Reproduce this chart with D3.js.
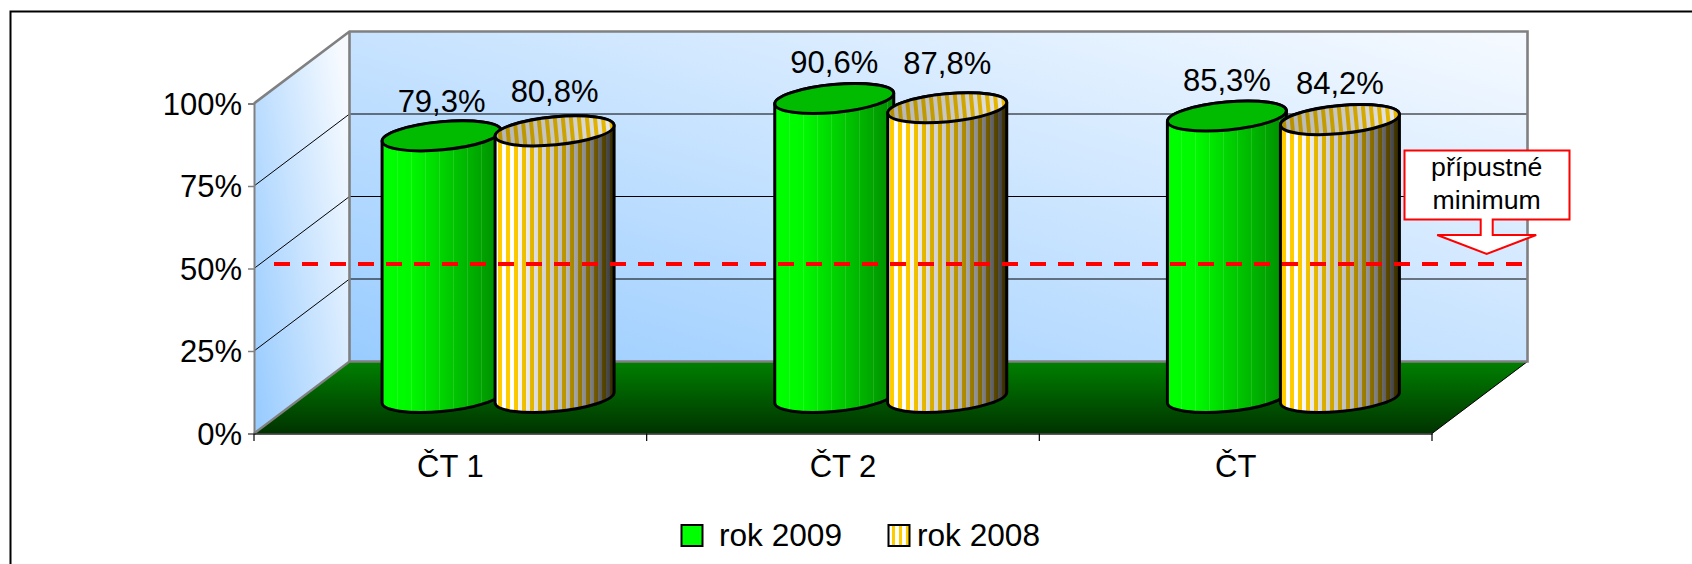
<!DOCTYPE html>
<html><head><meta charset="utf-8">
<script src="https://cdn.jsdelivr.net/npm/d3@7"></script>
<style>html,body{margin:0;padding:0;background:#fff}svg{display:block}text{font-family:"Liberation Sans",Arial,sans-serif;fill:#000}</style>
</head><body><svg id="c" width="1692" height="564"></svg>
<script>
const categories = ["ČT 1", "ČT 2", "ČT"];
const rok2009 = [79.3, 90.6, 85.3];
const rok2008 = [80.8, 87.8, 84.2];
const seriesNames = ["rok 2009", "rok 2008"];
const yTicks = [0, 25, 50, 75, 100];
const minimumValue = 50;
const calloutLines = ["přípustné", "minimum"];

const W = 1692, H = 564;
const svg = d3.select("#c");
const fmt = v => v.toFixed(1).replace(".", ",") + "%";

// layout of the pseudo-3D box
const x0 = 254, x1 = 1432, yF0 = 433.5, yF1 = 103.5, dX = 95.5, dY = -72;
const x = d3.scaleBand().domain(categories).range([x0, x1]);
const y = d3.scaleLinear().domain([0, 100]).range([yF0, yF1]);
const series = d3.scalePoint().domain(seriesNames).range([-56.5, 56.5]);
const depth = 0.5;
const X = 59.5, A = 59.7, B = 14, ROT = -5.38, TILT = 5.3;
const labelFont = 31;

const defs = svg.append("defs");
function lin(id, attrs, stops) {
  const g = defs.append("linearGradient").attr("id", id);
  Object.entries(attrs).forEach(([k, v]) => g.attr(k, v));
  stops.forEach(s => g.append("stop").attr("offset", s[0]).attr("stop-color", s[1]).attr("stop-opacity", s[2] === undefined ? 1 : s[2]));
}
lin("backWall", {x1:0,y1:1,x2:1,y2:0}, [[0,"#99ccff"],[1,"#f6faff"]]);
lin("sideWall", {x1:0,y1:0.9,x2:1,y2:0.2}, [[0,"#99ccff"],[1,"#f6faff"]]);
lin("floor", {x1:0,y1:0,x2:0,y2:1}, [[0,"#008000"],[1,"#003300"]]);
lin("greenBody", {x1:0,y1:0,x2:1,y2:0}, [[0,"#00ff00"],[0.25,"#00f800"],[1,"#008c00"]]);
lin("yellowShade", {x1:0,y1:0,x2:1,y2:0}, [[0,"#000",0],[0.15,"#000",0],[0.35,"#000",0.14],[0.6,"#000",0.28],[0.8,"#000",0.5],[1,"#000",0.8]]);
lin("yellowTopShade", {x1:0,y1:0,x2:1,y2:0}, [[0,"#000",0.3],[0.6,"#000",0.2],[1,"#000",0.08]]);

const stripe = defs.append("pattern").attr("id","stripes").attr("patternUnits","userSpaceOnUse").attr("width",8).attr("height",8);
stripe.append("rect").attr("width",8).attr("height",8).attr("fill","#fff");
stripe.append("rect").attr("x",2).attr("width",4).attr("height",8).attr("fill","#ffcc00");
const gl = defs.append("pattern").attr("id","greenLines").attr("patternUnits","userSpaceOnUse").attr("width",14).attr("height",8);
gl.append("rect").attr("x",5).attr("width",1).attr("height",8).attr("fill","#fff").attr("opacity",0.12);

const legendStripe = defs.append("pattern").attr("id","legendStripes").attr("patternUnits","userSpaceOnUse").attr("width",7).attr("height",8).attr("x",890);
legendStripe.append("rect").attr("width",7).attr("height",8).attr("fill","#fff");
legendStripe.append("rect").attr("x",2).attr("width",3).attr("height",8).attr("fill","#ffcc00");

// outer frame
svg.append("path").attr("d",`M10.5 ${H}V11.5H${W}`).attr("fill","none").attr("stroke","#000").attr("stroke-width",2);

// walls
const backL = x0 + dX, backR = x1 + dX, backB = yF0 + dY, backT = yF1 + dY;
svg.append("rect").attr("x",backL).attr("y",backT).attr("width",backR-backL).attr("height",backB-backT).attr("fill","url(#backWall)");
svg.append("path").attr("d",`M${x0} ${yF0}L${backL} ${backB}V${backT}L${x0} ${yF1}Z`).attr("fill","url(#sideWall)");

// gridlines on both walls
yTicks.filter(t => t > 0 && t < 100).forEach(t => {
  svg.append("line").attr("x1",x0).attr("y1",y(t)).attr("x2",backL).attr("y2",y(t)+dY).attr("stroke","#000").attr("stroke-width",1);
  svg.append("line").attr("x1",backL).attr("y1",y(t)+dY).attr("x2",backR).attr("y2",y(t)+dY).attr("stroke","#000").attr("stroke-width",1);
});

// floor
svg.append("path").attr("d",`M${x0} ${yF0}L${backL} ${backB}H${backR}L${x1} ${yF0}Z`).attr("fill","url(#floor)");
svg.append("line").attr("x1",x1).attr("y1",yF0).attr("x2",backR).attr("y2",backB).attr("stroke","#000").attr("stroke-width",1);

// wall outlines
const gray = "#808080";
svg.append("path").attr("d",`M${x0} ${yF1}L${backL} ${backT}H${backR}V${backB}H${backL}V${backT}`).attr("fill","none").attr("stroke",gray).attr("stroke-width",2.6);
svg.append("path").attr("d",`M${x0} ${yF0}L${backL} ${backB}`).attr("fill","none").attr("stroke",gray).attr("stroke-width",2.2);

// axes
const yAxis = d3.axisLeft(y).tickValues(yTicks).tickFormat(d => d + "%").tickSize(6).tickPadding(6);
const gy = svg.append("g").attr("transform",`translate(${x0},0)`).call(yAxis);
gy.select(".domain").attr("stroke",gray).attr("stroke-width",2);
gy.selectAll(".tick line").attr("stroke",gray).attr("stroke-width",1.5);
gy.selectAll("text").attr("font-size",labelFont).attr("dy",null).attr("y",10.5).attr("font-family",null);

const xAxis = d3.axisBottom(x).tickSize(0).tickPadding(0);
const gx = svg.append("g").attr("transform",`translate(0,${yF0})`).call(xAxis);
gx.select(".domain").attr("stroke","#222").attr("stroke-width",1.6);
gx.selectAll("text").attr("font-size",labelFont).attr("dy",null).attr("y",43).attr("font-family",null);
categories.concat([null]).forEach((c, i) => {
  const px = x0 + i * x.step();
  svg.append("line").attr("x1",px).attr("x2",px).attr("y1",yF0).attr("y2",yF0+7.5).attr("stroke","#000").attr("stroke-width",1.2);
});

// cylinders
const seriesData = [
  {name: seriesNames[0], values: rok2009, body: ["url(#greenBody)","url(#greenLines)"], top: ["#00bb00"], labelGaps: [24, 26, 25]},
  {name: seriesNames[1], values: rok2008, body: ["url(#stripes)","url(#yellowShade)"], top: ["url(#stripes)","url(#yellowTopShade)"], labelGaps: [29, 34, 26]}
];
const baseY = y(0) + dY * depth;
const hScale = d3.scaleLinear().domain([0,100]).range([0, yF0 - yF1]);
function bodyPath(cx, top, bot) {
  return `M${cx-X} ${top+TILT}L${cx-X} ${bot+TILT}A${A} ${B} ${ROT} 0 0 ${cx+X} ${bot-TILT}L${cx+X} ${top-TILT}A${A} ${B} ${ROT} 0 0 ${cx-X} ${top+TILT}Z`;
}
categories.forEach((cat, i) => {
  const center = x(cat) + x.bandwidth()/2 + dX*depth;
  seriesData.forEach(s => {
    const cx = center + series(s.name), top = baseY - hScale(s.values[i]), bot = baseY;
    const g = svg.append("g");
    s.body.forEach(f => g.append("path").attr("d",bodyPath(cx,top,bot)).attr("fill",f));
    g.append("path").attr("d",bodyPath(cx,top,bot)).attr("fill","none").attr("stroke","#000").attr("stroke-width",3).attr("stroke-linejoin","round");
    s.top.forEach(f => g.append("ellipse").attr("cx",cx).attr("cy",top).attr("rx",A).attr("ry",B).attr("transform",`rotate(${ROT} ${cx} ${top})`).attr("fill",f));
    g.append("ellipse").attr("cx",cx).attr("cy",top).attr("rx",A).attr("ry",B).attr("transform",`rotate(${ROT} ${cx} ${top})`).attr("fill","none").attr("stroke","#000").attr("stroke-width",3);
  });
});

// value labels
categories.forEach((cat, i) => {
  const center = x(cat) + x.bandwidth()/2 + dX*depth;
  seriesData.forEach(s => {
    svg.append("text").attr("x",center + series(s.name)).attr("y",baseY - hScale(s.values[i]) - s.labelGaps[i])
      .attr("text-anchor","middle").attr("font-size",labelFont).text(fmt(s.values[i]));
  });
});

// permissible-minimum line
const minY = y(minimumValue) - 4.5;
svg.append("line").attr("x1",274).attr("x2",1524).attr("y1",minY).attr("y2",minY).attr("stroke","#ff0000").attr("stroke-width",4).attr("stroke-dasharray","16 12");

// callout
const cL = 1404.5, cR = 1569.5, cT = 150.5, cB = 219.5, cM = 1486.7, sh = 6, headY = 235, hw = 49.5, tip = minY - 10;
svg.append("path").attr("d",`M${cL} ${cT}H${cR}V${cB}H${cM+sh}V${headY}H${cM+hw}L${cM} ${tip}L${cM-hw} ${headY}H${cM-sh}V${cB}H${cL}Z`)
  .attr("fill","#fff").attr("stroke","#ff0000").attr("stroke-width",2);
calloutLines.forEach((t, i) => svg.append("text").attr("x",cM).attr("y",176 + i*33).attr("text-anchor","middle").attr("font-size",26.7).text(t));

// legend
const legendItems = [{x:681.5, fill:"#00ff00", tx:719}, {x:888.5, fill:"url(#legendStripes)", tx:917}];
seriesNames.forEach((n, i) => {
  const l = legendItems[i];
  svg.append("rect").attr("x",l.x).attr("y",525).attr("width",21).attr("height",21).attr("fill",l.fill).attr("stroke","#000").attr("stroke-width",2);
  svg.append("text").attr("x",l.tx).attr("y",546).attr("font-size",31.6).text(n);
});
</script></body></html>
